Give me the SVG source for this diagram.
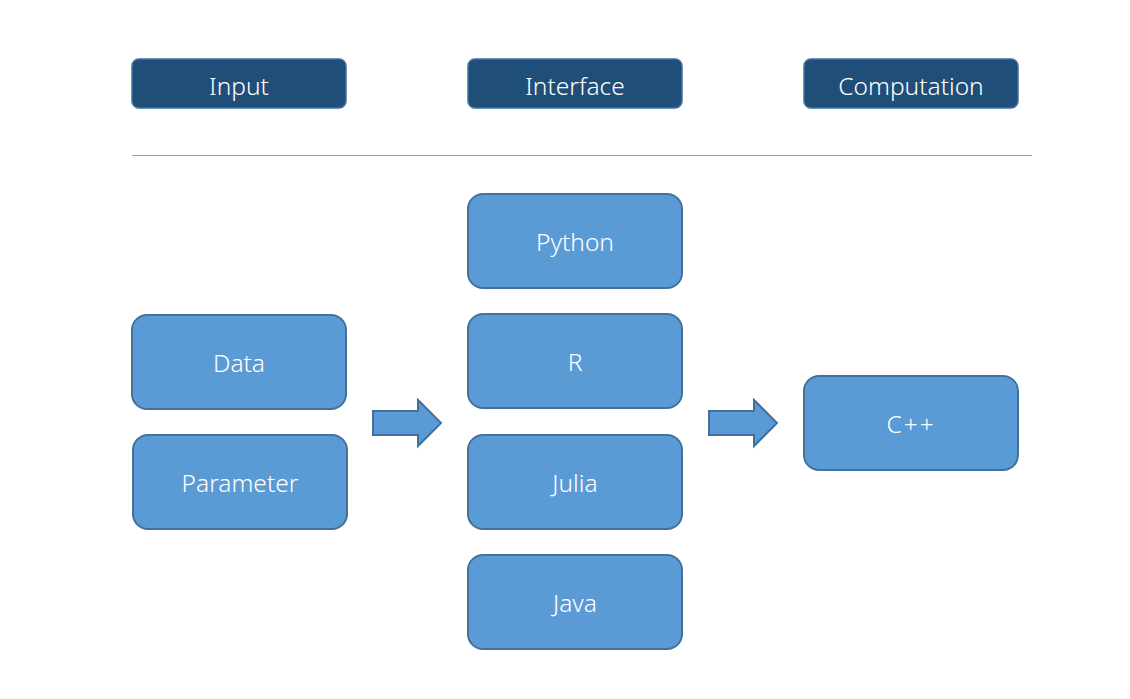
<svg xmlns="http://www.w3.org/2000/svg" width="1130" height="699" viewBox="0 0 1130 699">
<style>
.hdr{fill:#1f4e79;stroke:#41719c;stroke-width:1.5}
.box{fill:#5b9bd5;stroke:#41719c;stroke-width:2}
.arr{fill:#5b9bd5;stroke:#41719c;stroke-width:2;stroke-linejoin:miter}
text{font-family:"Noto Sans","Open Sans","DejaVu Sans",sans-serif;font-size:24.5px;font-weight:300;fill:#ffffff;text-anchor:middle;dominant-baseline:central}
</style>
<rect width="1130" height="699" fill="#ffffff"/>
<g id="hdr-input"><rect class="hdr" x="132" y="59" width="214" height="49" rx="7"/><text x="239" y="85">Input</text></g>
<g id="hdr-interface"><rect class="hdr" x="468" y="59" width="214" height="49" rx="7"/><text x="575" y="85">Interface</text></g>
<g id="hdr-computation"><rect class="hdr" x="804" y="59" width="214" height="49" rx="7"/><text x="911" y="85">Computation</text></g>
<line x1="132" y1="155.5" x2="1032" y2="155.5" stroke="#8c9fb5" stroke-width="1"/>
<g id="data"><rect class="box" x="132" y="315" width="214" height="94" rx="15"/><text x="239" y="362">Data</text></g>
<g id="parameter"><rect class="box" x="133" y="435" width="214" height="94" rx="15"/><text x="240" y="482">Parameter</text></g>
<g id="python"><rect class="box" x="468" y="194" width="214" height="94" rx="15"/><text x="575" y="241">Python</text></g>
<g id="r"><rect class="box" x="468" y="314" width="214" height="94" rx="15"/><text x="575" y="361">R</text></g>
<g id="julia"><rect class="box" x="468" y="435" width="214" height="94" rx="15"/><text x="575" y="482">Julia</text></g>
<g id="java"><rect class="box" x="468" y="555" width="214" height="94" rx="15"/><text x="575" y="602">Java</text></g>
<g id="cpp"><rect class="box" x="804" y="376" width="214" height="94" rx="15"/><text x="911" y="423" letter-spacing="2">C++</text></g>
<g id="connectors">
<polygon class="arr" points="373,411 418,411 418,400 441,423 418,446 418,435 373,435"/>
<polygon class="arr" points="709,411 754,411 754,400 777,423 754,446 754,435 709,435"/>
</g>
</svg>
